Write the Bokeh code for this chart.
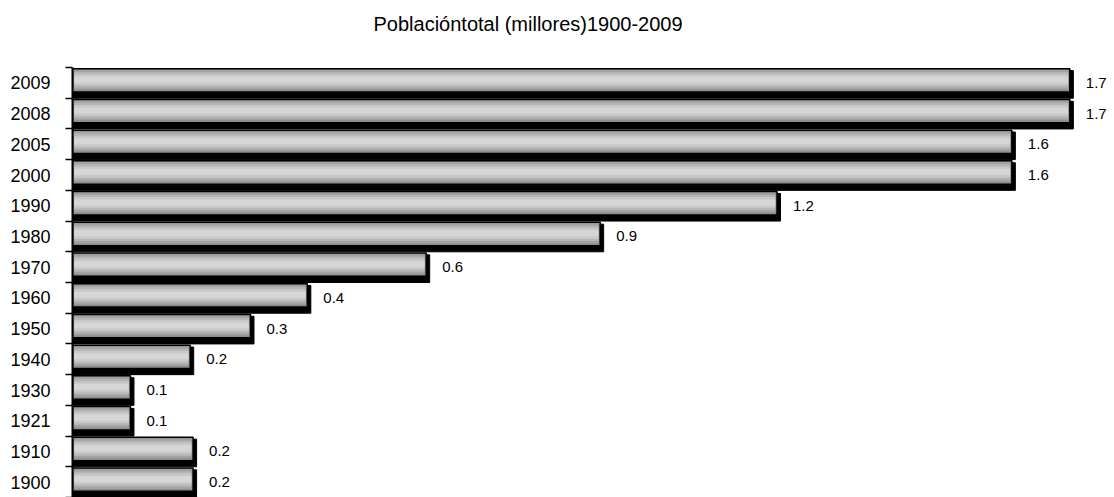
from bokeh.plotting import figure
from bokeh.models import Range1d, FixedTicker, ColumnDataSource, Title
from bokeh.embed import file_html
from bokeh.resources import INLINE
from bokeh.core.properties import value

years = ["2009", "2008", "2005", "2000", "1990", "1980", "1970", "1960",
         "1950", "1940", "1930", "1921", "1910", "1900"]
population = [1.72, 1.72, 1.62, 1.62, 1.215, 0.91, 0.61, 0.405,
              0.307, 0.203, 0.10, 0.10, 0.208, 0.208]
value_labels = ["1.7", "1.7", "1.6", "1.6", "1.2", "0.9", "0.6", "0.4",
                "0.3", "0.2", "0.1", "0.1", "0.2", "0.2"]
title_text = "Poblacióntotal (millores)1900-2009"

n = len(years)
pos = [n - 1 - i for i in range(n)]

src = ColumnDataSource(dict(
    pos=pos,
    pos_shadow=[q - 0.05 for q in pos],
    pos_bar=[q + 0.08 for q in pos],
    pos_strip=[q + 0.10 for q in pos],
    population=population,
    shadow_right=[v + 0.006 for v in population],
    strip_right=[v - 0.003 for v in population],
    labels=value_labels,
))

p = figure(width=1114, height=497, x_range=Range1d(0, 1.797),
           y_range=Range1d(-0.5, n - 0.5), output_backend="svg",
           toolbar_location=None, min_border_left=72, min_border_right=0,
           min_border_top=67, min_border_bottom=0)

p.add_layout(Title(text=title_text + "\n", align="left", offset=301,
                   vertical_align="top", standoff=17,
                   text_font="Liberation Sans", text_font_size="20px",
                   text_font_style="normal", text_color="black"), "above")

p.xaxis.visible = False
p.grid.visible = False
p.outline_line_color = None
p.background_fill_color = "white"
p.border_fill_color = "white"

ax = p.yaxis[0]
ax.ticker = FixedTicker(ticks=pos, minor_ticks=[k - 0.5 for k in range(n + 1)])
ax.major_label_overrides = {q: y for q, y in zip(pos, years)}
ax.major_tick_out = 0
ax.major_tick_in = 0
ax.minor_tick_out = 7
ax.minor_tick_in = 0
ax.minor_tick_line_color = "black"
ax.minor_tick_line_width = 1.5
ax.axis_line_color = "black"
ax.axis_line_width = 2
ax.major_label_text_font = "Liberation Sans"
ax.major_label_text_font_size = "18px"
ax.major_label_text_color = "black"
ax.major_label_standoff = 15

# shadow
p.hbar(y="pos_shadow", left=0, right="shadow_right", height=0.9, source=src,
       fill_color="black", line_color="black", line_width=1)
# main bar
p.hbar(y="pos_bar", left=0, right="population", height=0.76, source=src,
       fill_color="#8e8e8e", line_color="black", line_width=1.5)
# gradient strips
for h, c in [(0.64, "#a2a2a2"), (0.50, "#b6b6b6"), (0.36, "#c8c8c8"), (0.20, "#d6d6d6")]:
    p.hbar(y="pos_strip", left=0.003, right="strip_right", height=h, source=src,
           fill_color=c, line_color=None)

p.text(x="population", y="pos", text="labels", source=src, x_offset=16,
       text_baseline="middle", text_align="left",
       text_font=value("Liberation Sans"), text_font_size=value("15px"),
       text_color="black")

open("out.html", "w").write(file_html(p, INLINE))
